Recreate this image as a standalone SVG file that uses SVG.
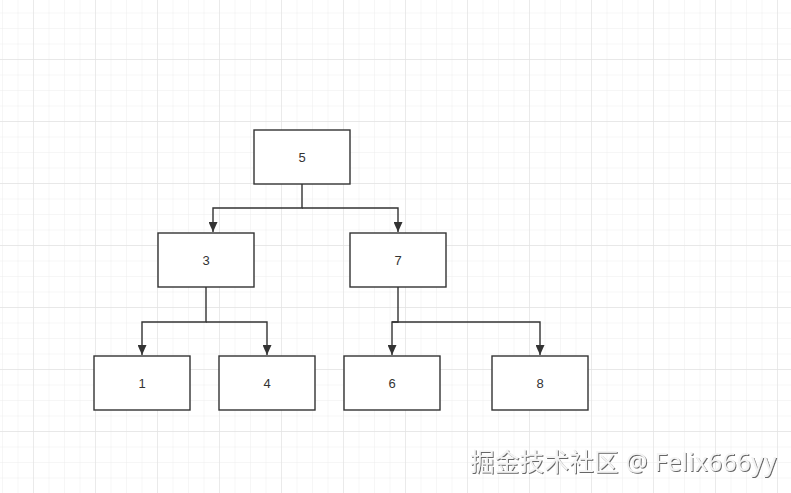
<svg xmlns="http://www.w3.org/2000/svg" width="791" height="493" viewBox="0 0 791 493">
<defs>
<pattern id="minor" x="2" y="12.5" width="15.5" height="15.5" patternUnits="userSpaceOnUse">
<path d="M0 0H15.5M0 0V15.5" fill="none" stroke="#ededed" stroke-width="1"/>
</pattern>
<pattern id="major" x="33" y="59" width="62" height="62" patternUnits="userSpaceOnUse">
<path d="M0 0H62M0 0V62" fill="none" stroke="#e3e3e3" stroke-width="1.3"/>
</pattern>
<marker id="arr" viewBox="0 0 10 10" refX="10" refY="5" markerWidth="10" markerHeight="9" markerUnits="userSpaceOnUse" orient="auto" preserveAspectRatio="none">
<path d="M0 0L10 5L0 10Z" fill="#333"/>
</marker>
<filter id="emb" x="-5%" y="-20%" width="110%" height="140%">
<feDropShadow dx="1" dy="1" stdDeviation="0.6" flood-color="#555" flood-opacity="0.9"/>
</filter>
<style>
.box{fill:#fff;stroke:#333;stroke-width:1.4}
.lbl{font-family:"Liberation Sans",Arial,sans-serif;font-size:13px;fill:#333;text-anchor:middle;dominant-baseline:central}
.con{fill:none;stroke:#333;stroke-width:1.4}
.wm{font-family:"Noto Sans","Noto Sans CJK SC",sans-serif;font-size:24.5px;letter-spacing:0.3px;fill:#f4f4f4}
</style>
</defs>
<rect width="791" height="493" fill="#fff"/>
<rect width="791" height="493" fill="url(#minor)"/>
<rect width="791" height="493" fill="url(#major)"/>
<g id="connectors">
<path class="con" d="M302 184V208H213V232" marker-end="url(#arr)"/>
<path class="con" d="M302 208H398V232" marker-end="url(#arr)"/>
<path class="con" d="M206 287V322H142V355" marker-end="url(#arr)"/>
<path class="con" d="M206 322H267V355" marker-end="url(#arr)"/>
<path class="con" d="M398 287V322H392V355" marker-end="url(#arr)"/>
<path class="con" d="M392 322H540V355" marker-end="url(#arr)"/>
</g>
<g id="n5"><rect class="box" x="254" y="130" width="96" height="54"/><text class="lbl" x="302" y="157">5</text></g>
<g id="n3"><rect class="box" x="158" y="233" width="96" height="54"/><text class="lbl" x="206" y="260">3</text></g>
<g id="n7"><rect class="box" x="350" y="233" width="96" height="54"/><text class="lbl" x="398" y="260">7</text></g>
<g id="n1"><rect class="box" x="94" y="356" width="96" height="54"/><text class="lbl" x="142" y="383">1</text></g>
<g id="n4"><rect class="box" x="219" y="356" width="96" height="54"/><text class="lbl" x="267" y="383">4</text></g>
<g id="n6"><rect class="box" x="344" y="356" width="96" height="54"/><text class="lbl" x="392" y="383">6</text></g>
<g id="n8"><rect class="box" x="492" y="356" width="96" height="54"/><text class="lbl" x="540" y="383">8</text></g>
<text class="wm" x="470" y="471" filter="url(#emb)">掘金技术社区 @ Felix666yy</text>
</svg>
